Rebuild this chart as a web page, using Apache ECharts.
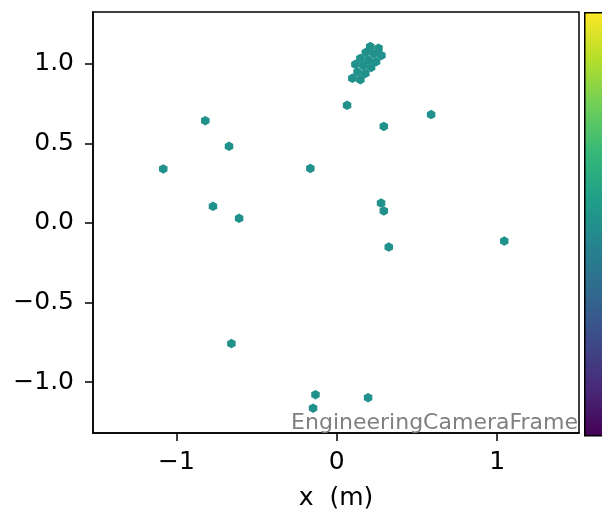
<!DOCTYPE html>
<html>
<head>
<meta charset="utf-8">
<script src="https://cdn.jsdelivr.net/npm/echarts@6/dist/echarts.min.js"></script>
<style>html,body{margin:0;padding:0;background:#fff;}#c{width:602px;height:516px;}</style>
</head>
<body>
<div id="c"></div>
<script>
// Sensor x positions (m)
var xs = [
  0.208, 0.260, 0.181, 0.231, 0.278, 0.147, 0.197, 0.245, 0.116, 0.166, 0.214, 0.129, 0.178, 0.097, 0.147,
  -0.820, -0.672, -1.082, -0.772, -0.609,
  0.064, 0.588, 0.293, -0.165, 0.276, 0.293, 0.324,
  -0.657, -0.133, 0.195, -0.148, 1.044
];
// Sensor y positions (m)
var ys = [
  1.108, 1.098, 1.071, 1.063, 1.052, 1.033, 1.023, 1.013, 0.996, 0.988, 0.977, 0.948, 0.939, 0.908, 0.900,
  0.642, 0.481, 0.339, 0.104, 0.029,
  0.739, 0.681, 0.606, 0.342, 0.125, 0.075, -0.152,
  -0.758, -1.079, -1.098, -1.164, -0.114
];
var xTicks = [-1, 0, 1];
var yTicks = [-1.0, -0.5, 0.0, 0.5, 1.0];
var xLabel = 'x  (m)';
var frameLabel = 'EngineeringCameraFrame';
var viridis = ['#440154', '#482878', '#3e4989', '#31688e', '#26828e', '#1f9e89', '#35b779', '#6ece58', '#b5de2b', '#fde725'];

var pts = xs.map(function (x, i) { return [x, ys[i]]; });
var hex = 'path://M0,-1L0.866,-0.5L0.866,0.5L0,1L-0.866,0.5L-0.866,-0.5Z';
var font = 'DejaVu Sans';
function fmtY(v) { return (v < 0 ? '\u2212' : '') + Math.abs(v).toFixed(1); }
function fmtX(v) { return (v < 0 ? '\u2212' : '') + Math.abs(Math.round(v)); }

var chart = echarts.init(document.getElementById('c'), null, {renderer: 'canvas'});
var stops = viridis.map(function (c, i) { return {offset: 1 - i / (viridis.length - 1), color: c}; });
chart.setOption({
  animation: false,
  backgroundColor: '#fff',
  grid: {left: 93, top: 12, width: 486, height: 423, show: true, borderColor: '#000', borderWidth: 1.5, backgroundColor: 'transparent'},
  xAxis: {
    type: 'value', min: -1.52, max: 1.51,
    splitLine: {show: false},
    axisLine: {show: true, onZero: false, lineStyle: {color: '#000', width: 1.5}},
    axisTick: {show: true, inside: false, length: 8, lineStyle: {color: '#000', width: 1.5}, customValues: xTicks},
    axisLabel: {show: true, customValues: xTicks, formatter: fmtX, color: '#000', fontFamily: font, fontSize: 25, margin: 17},
    name: xLabel, nameLocation: 'middle', nameGap: 53,
    nameTextStyle: {color: '#000', fontFamily: font, fontSize: 25}
  },
  yAxis: {
    type: 'value', min: -1.32, max: 1.325,
    splitLine: {show: false},
    axisLine: {show: true, onZero: false, lineStyle: {color: '#000', width: 1.5}},
    axisTick: {show: true, inside: false, length: 8, lineStyle: {color: '#000', width: 1.5}, customValues: yTicks},
    axisLabel: {show: true, customValues: yTicks, formatter: fmtY, color: '#000', fontFamily: font, fontSize: 25, margin: 19}
  },
  series: [{
    type: 'scatter',
    data: pts,
    symbol: hex,
    symbolSize: [8.5, 9.5],
    itemStyle: {color: '#21918c', opacity: 1},
    silent: true
  }],
  graphic: [
    {
      type: 'rect', left: 584, top: 12, z: 10,
      shape: {width: 34, height: 423},
      style: {fill: new echarts.graphic.LinearGradient(0, 0, 0, 1, stops), stroke: '#000', lineWidth: 1.5}
    },
    {
      type: 'text', right: 24, top: 412, z: 10,
      style: {text: frameLabel, fill: '#808080', font: '22px "DejaVu Sans"'}
    }
  ]
});
</script>
</body>
</html>
